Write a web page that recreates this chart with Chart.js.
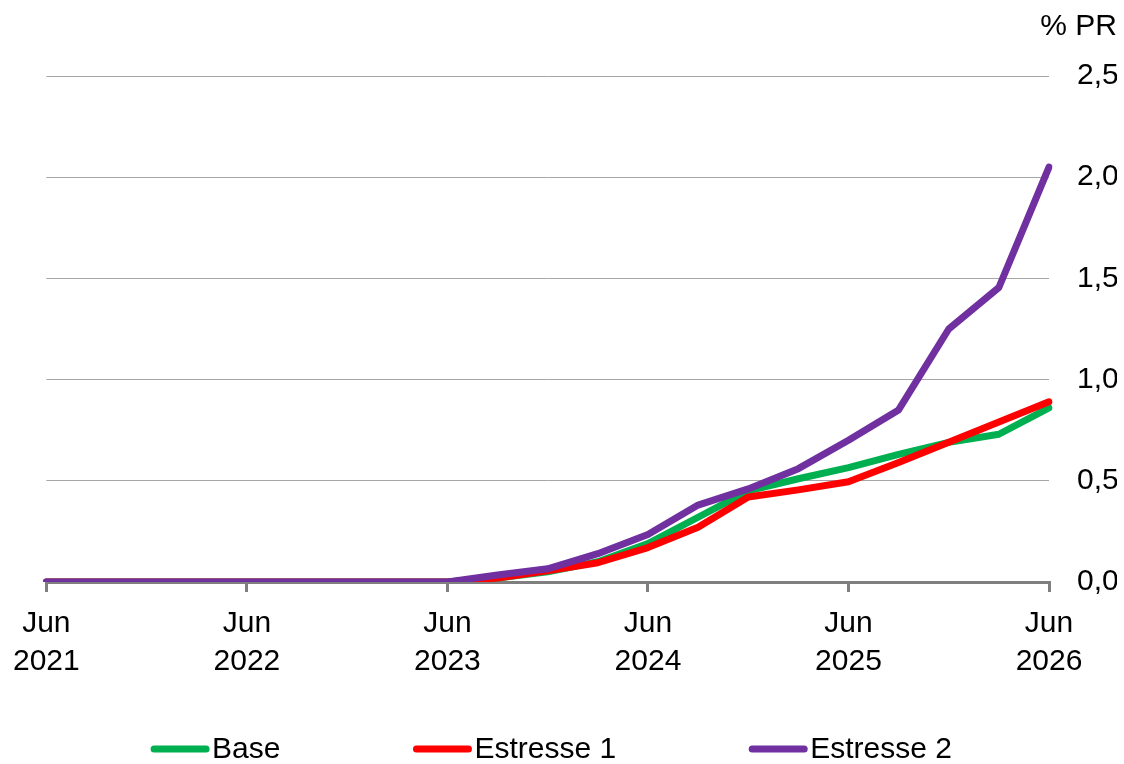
<!DOCTYPE html>
<html>
<head>
<meta charset="utf-8">
<script src="https://cdn.jsdelivr.net/npm/chart.js@4.4.0/dist/chart.umd.min.js"></script>
<style>
    html, body { margin: 0; padding: 0; background: #ffffff; }
    #box { width: 1124px; height: 764px; position: relative; }
</style>
</head>
<body>
<div id="box"><canvas id="chart"></canvas></div>
<script>
// Quarterly dates, Jun 2021 .. Jun 2026
const quarters = [
    'Jun 2021', 'Set 2021', 'Dez 2021', 'Mar 2022',
    'Jun 2022', 'Set 2022', 'Dez 2022', 'Mar 2023',
    'Jun 2023', 'Set 2023', 'Dez 2023', 'Mar 2024',
    'Jun 2024', 'Set 2024', 'Dez 2024', 'Mar 2025',
    'Jun 2025', 'Set 2025', 'Dez 2025', 'Mar 2026',
    'Jun 2026'
];

// % PR
const base = [0, 0, 0, 0, 0, 0, 0, 0, 0, 0.02, 0.05, 0.10, 0.19, 0.32, 0.45, 0.51, 0.565, 0.63, 0.69, 0.73, 0.86];
const estresse1 = [0, 0, 0, 0, 0, 0, 0, 0, 0, 0.02, 0.055, 0.095, 0.17, 0.27, 0.42, 0.455, 0.495, 0.59, 0.69, 0.79, 0.89];
const estresse2 = [0, 0, 0, 0, 0, 0, 0, 0, 0, 0.035, 0.065, 0.14, 0.235, 0.38, 0.46, 0.56, 0.70, 0.85, 1.25, 1.455, 2.05];

const seriesNames = ['Base', 'Estresse 1', 'Estresse 2'];
const yTicks = [0, 0.5, 1, 1.5, 2, 2.5];

const FONT = 'Liberation Sans, Arial, sans-serif';
const colors = ['#00b050', '#ff0000', '#7030a0'];

// Legend drawn below the axis-------------------------------------------
const bottomLegend = {
    id: 'bottomLegend',
    afterDraw(chart) {
        const ctx = chart.ctx;
        ctx.save();
        ctx.font = '30px ' + FONT;
        const lineLen = 52;
        const gap = 130;
        const widths = chart.data.datasets.map(d => lineLen + 12 + ctx.measureText(d.label).width);
        const total = widths.reduce((a, b) => a + b, 0) + gap * (widths.length - 1);
        let x = 552 - total / 2;
        const y = 749;
        chart.data.datasets.forEach((d, i) => {
            ctx.strokeStyle = d.borderColor;
            ctx.lineWidth = 7;
            ctx.lineCap = 'round';
            ctx.beginPath();
            ctx.moveTo(x + 4, y);
            ctx.lineTo(x + 4 + lineLen, y);
            ctx.stroke();
            ctx.fillStyle = '#000000';
            ctx.textBaseline = 'middle';
            ctx.textAlign = 'left';
            ctx.fillText(d.label, x + lineLen + 10, y + 1);
            x += widths[i] + gap;
        });
        ctx.restore();
    }
};

const data = {
    labels: quarters,
    datasets: [
        { label: seriesNames[0], data: base, borderColor: colors[0], backgroundColor: colors[0], order: 3 },
        { label: seriesNames[1], data: estresse1, borderColor: colors[1], backgroundColor: colors[1], order: 2 },
        { label: seriesNames[2], data: estresse2, borderColor: colors[2], backgroundColor: colors[2], order: 1 }
    ].map(d => Object.assign(d, {
        borderWidth: 7,
        pointRadius: 0,
        tension: 0,
        fill: false,
        borderCapStyle: 'round',
        borderJoinStyle: 'round'
    }))
};

const scales = {
    x: {
        type: 'category',
        offset: false,
        grid: {
            drawOnChartArea: false,
            drawTicks: true,
            tickLength: 10,
            lineWidth: 3,
            color: c => (c.index % 4 === 0 ? '#7f7f7f' : 'rgba(0,0,0,0)')
        },
        border: { display: true, color: '#7f7f7f', width: 3 },
        ticks: {
            autoSkip: false,
            maxRotation: 0,
            minRotation: 0,
            padding: 13,
            color: '#000000',
            font: { family: FONT, size: 30, lineHeight: 1.25 },
            callback: function (v, i) {
                if (i % 4 !== 0) return '';
                return quarters[i].split(' ');
            }
        }
    },
    y: {
        position: 'right',
        min: 0,
        max: 2.5,
        afterBuildTicks: s => { s.ticks = yTicks.map(v => ({ value: v })); },
        afterFit: s => { s.width = 68; },
        grid: { color: '#a6a6a6', lineWidth: 1, drawTicks: false },
        border: { display: false },
        ticks: {
            padding: 28,
            color: '#000000',
            font: { family: FONT, size: 30 },
            callback: v => v.toFixed(1).replace('.', ',')
        }
    }
};

new Chart(document.getElementById('chart'), {
    type: 'line',
    data: data,
    options: {
        responsive: true,
        maintainAspectRatio: false,
        animation: false,
        layout: { padding: { left: 42, right: 7, top: 0, bottom: 71 } },
        scales: scales,
        plugins: {
            legend: { display: false },
            tooltip: { enabled: false },
            title: {
                display: true,
                text: '% PR',
                align: 'end',
                color: '#000000',
                font: { family: FONT, size: 30, weight: 'normal' },
                padding: { top: 9, bottom: 31 }
            }
        }
    },
    plugins: [bottomLegend]
});
</script>
</body>
</html>
